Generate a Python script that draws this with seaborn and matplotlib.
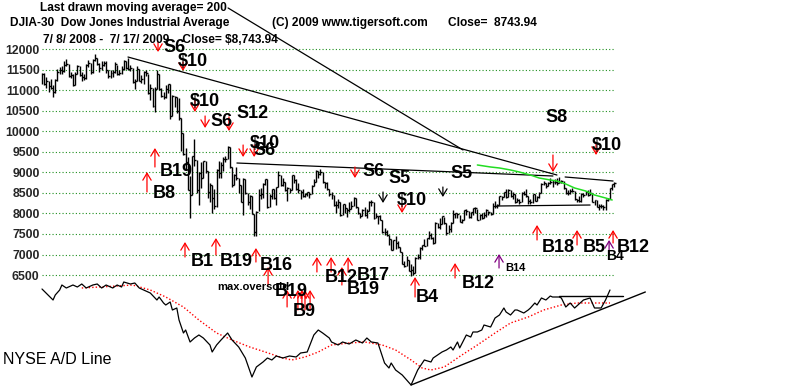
import matplotlib
matplotlib.use("Agg")
import matplotlib.pyplot as plt
import seaborn as sns
import pandas as pd

# ---------------- data ----------------
# DJIA daily bars, 7/8/2008 - 7/17/2009 (x = trading-day number)
close = [11384, 11147, 11229, 11100, 11055, 10962, 11239, 11446, 11496, 11467, 11602, 11632, 11349, 11370, 11131, 11397, 11583, 11378,
         11326, 11284, 11616, 11656, 11431, 11734, 11782, 11642, 11532, 11615, 11659, 11479, 11348, 11417, 11430, 11628, 11387, 11413, 11502, 11715, 11543,
         11516, 11532, 11188, 11220, 11510, 11231, 11268, 11434, 11421, 10918, 11059, 10609, 11019, 11388, 11015, 10854, 10825, 11022, 11143, 10365, 10851,
         10831, 10482, 10325, 9955, 9447, 9258, 8579, 8451, 9387, 9310, 8577, 8979, 8852, 9265, 9033, 8519, 8691, 8378, 8175, 9065, 8991, 9180, 9325,
         9319, 9625, 9139, 8695, 8943, 8870, 8693, 8283, 8835, 8497, 8273, 8424, 7997, 7552, 8046, 8443, 8479, 8726, 8829,
         8149, 8419, 8591, 8376, 8635, 8934, 8691, 8761, 8565, 8629, 8564, 8924, 8824, 8604, 8579, 8519, 8419, 8468, 8515, 8483, 8668, 8776,
         9034, 8953, 9015, 8769, 8742, 8599, 8474, 8448, 8200, 8212, 8281, 7949, 8228, 8123, 8077, 8116, 8175, 8375, 8149, 8001,
         7936, 8078, 7957, 8063, 8280, 8270, 7888, 7939, 7933, 7850, 7553, 7556, 7466, 7365, 7115, 7351, 7270, 7183, 7063,
         6763, 6726, 6876, 6594, 6627, 6547, 6926, 6930, 7170, 7224, 7216, 7395, 7486, 7400, 7278, 7776, 7660, 7749, 7925, 7776, 7522, 7609,
         7762, 7979, 8018, 7975, 7789, 7837, 8083, 8058, 7920, 8029, 8125, 8131, 7841, 7969, 7886, 7957, 8076, 8025, 7975, 8186, 8168,
         8212, 8426, 8410, 8512, 8409, 8575, 8419, 8469, 8284, 8331, 8268, 8504, 8474, 8422, 8293, 8277, 8473, 8300, 8404, 8500,
         8721, 8740, 8675, 8750, 8764, 8764, 8763, 8739, 8770, 8799, 8612, 8504, 8497, 8555, 8539, 8339, 8323, 8299, 8472, 8438, 8529, 8447,
         8504, 8280, 8324, 8163, 8178, 8183, 8146, 8332, 8359, 8616, 8712, 8744]
high = [11420, 11420, 11330, 11230, 11260, 11120, 11280, 11520, 11560, 11580, 11700, 11760, 11630, 11450, 11380, 11430, 11620, 11590,
        11450, 11400, 11640, 11740, 11650, 11760, 11870, 11790, 11650, 11700, 11720, 11700, 11480, 11480, 11480, 11680, 11620, 11480, 11580, 11740, 11700,
        11790, 11620, 11530, 11260, 11580, 11520, 11360, 11470, 11490, 11400, 11140, 11060, 11070, 11480, 11390, 11040, 10960, 11120, 11150, 11140, 10870,
        10860, 10830, 10800, 10320, 9960, 9600, 9370, 8900, 9390, 9800, 9310, 9000, 9250, 9270, 9270, 9030, 8750, 8690, 8600, 9080, 9280, 9240, 9380,
        9400, 9650, 9620, 9140, 8960, 9120, 8870, 8690, 8850, 8830, 8500, 8440, 8430, 7990, 8050, 8600, 8620, 8730, 8830,
        8830, 8460, 8600, 8590, 8640, 9030, 8930, 8860, 8760, 8650, 8630, 8930, 8930, 8840, 8740, 8580, 8600, 8490, 8530, 8520, 8680, 8830,
        9050, 9040, 9090, 9010, 8770, 8760, 8600, 8530, 8440, 8300, 8340, 8280, 8230, 8220, 8140, 8270, 8290, 8390, 8370, 8150,
        8000, 8100, 8160, 8100, 8310, 8320, 8280, 8000, 7940, 7960, 7840, 7640, 7600, 7470, 7370, 7360, 7460, 7330, 7180,
        7060, 6850, 6960, 6870, 6770, 6710, 6930, 7020, 7180, 7240, 7380, 7400, 7560, 7520, 7420, 7780, 7770, 7880, 7930, 7920, 7770, 7710,
        7780, 8080, 8020, 8010, 7970, 7870, 8090, 8110, 8060, 8040, 8130, 8160, 8110, 7990, 8010, 8030, 8100, 8070, 8030, 8250, 8290,
        8240, 8430, 8420, 8520, 8590, 8590, 8570, 8510, 8470, 8380, 8340, 8510, 8540, 8590, 8420, 8340, 8480, 8480, 8430, 8510,
        8730, 8780, 8740, 8760, 8870, 8810, 8830, 8870, 8880, 8810, 8800, 8620, 8560, 8590, 8620, 8540, 8360, 8420, 8490, 8490, 8550, 8560,
        8590, 8490, 8330, 8320, 8220, 8230, 8200, 8340, 8380, 8620, 8720, 8760]
low = [11150, 11130, 11050, 10950, 11030, 10830, 10930, 11230, 11380, 11390, 11440, 11580, 11320, 11290, 11110, 11130, 11390, 11350,
       11220, 11240, 11280, 11550, 11380, 11420, 11720, 11600, 11440, 11480, 11590, 11420, 11300, 11300, 11330, 11420, 11360, 11360, 11390, 11490, 11520,
       11500, 11460, 11170, 11030, 11220, 11220, 11180, 11140, 11340, 10910, 10750, 10600, 10460, 11020, 11000, 10840, 10790, 10800, 10920, 10300, 10370,
       10580, 10440, 10280, 9520, 9430, 9050, 8570, 7880, 8450, 9150, 8500, 8200, 8630, 8850, 8980, 8380, 8270, 8000, 8100, 8150, 8850, 8870, 9030,
       9250, 9320, 9100, 8650, 8690, 8810, 8500, 8280, 7970, 8480, 8200, 8100, 7990, 7450, 7450, 8050, 8340, 8380, 8700,
       8140, 8150, 8360, 8350, 8200, 8640, 8660, 8660, 8540, 8300, 8490, 8570, 8750, 8570, 8500, 8350, 8400, 8410, 8430, 8370, 8480, 8660,
       8760, 8860, 8940, 8730, 8620, 8580, 8420, 8340, 8170, 8000, 8120, 7940, 7950, 8000, 7910, 8030, 8110, 8180, 8140, 7990,
       7880, 7930, 7940, 7880, 8050, 8180, 7860, 7880, 7740, 7840, 7530, 7480, 7450, 7230, 7100, 7110, 7130, 7150, 7050,
       6760, 6700, 6720, 6590, 6470, 6510, 6550, 6890, 6900, 7110, 7200, 7200, 7370, 7380, 7250, 7280, 7650, 7620, 7730, 7740, 7480, 7520,
       7550, 7770, 7890, 7880, 7780, 7760, 7850, 7960, 7900, 7880, 7960, 8020, 7830, 7840, 7870, 7890, 7920, 7960, 7950, 7980, 8140,
       8140, 8210, 8330, 8400, 8380, 8400, 8410, 8350, 8260, 8280, 8240, 8270, 8440, 8400, 8220, 8240, 8260, 8290, 8290, 8370,
       8500, 8680, 8620, 8660, 8710, 8650, 8720, 8690, 8740, 8730, 8600, 8480, 8450, 8460, 8520, 8320, 8280, 8280, 8280, 8390, 8440, 8420,
       8440, 8270, 8210, 8150, 8090, 8120, 8090, 8080, 8290, 8360, 8580, 8640]

price_ticks = [12000, 11500, 11000, 10500, 10000, 9500, 9000, 8500, 8000, 7500, 7000, 6500]

# 200-day moving average (green), trading-day number / value
ma200_day = [197, 203, 207, 212, 216, 221, 225, 230, 233, 237, 241, 246, 250, 255, 258]
ma200_val = [9178, 9129, 9105, 9056, 9007, 8934, 8861, 8813, 8788, 8715, 8618, 8545, 8448, 8375, 8326]

# trend lines on the price chart (start day, start price, end day, end price)
trend_x0 = [38.9, 84.2, 88.2, 205.9, 236.7]
trend_y0 = [11805, 12998, 9226, 8180, 8886]
trend_x1 = [233.0, 190.5, 231.2, 248.0, 258.4]
trend_y1 = [8934, 9543, 8910, 8204, 8788]

# NYSE A/D line (relative units)
ad_day = [0, 5, 6, 8, 9, 11, 14, 16, 18, 20, 23, 25, 27, 29, 32, 34, 36, 37, 40, 42, 44, 47, 49, 52, 53, 55, 56, 58, 59, 61,
          62, 64, 65, 67, 69, 71, 73, 76, 77, 79, 81, 84, 86, 89, 92, 95, 97, 100, 102, 104, 106, 109, 112, 115, 117, 120,
          123, 125, 127, 130, 131, 134, 136, 139, 142, 145, 147, 149, 152, 155, 157, 158, 160, 163, 165, 167, 169, 170, 173,
          176, 177, 179, 181, 183, 185, 186, 188, 189, 192, 194, 195, 197, 199, 200, 203, 205, 207, 209, 210, 212, 214, 215,
          218, 220, 221, 223, 224, 226, 228, 230, 231, 234, 235, 237, 239, 241, 245, 248, 250, 253, 255, 257]
ad_val = [101, 90, 95, 100, 105, 102, 105, 103, 106, 102, 105, 106, 102, 105, 102, 105, 103, 108, 106, 107, 102, 99, 97, 90, 93, 87, 85, 88, 80, 82,
          70, 57, 60, 48, 52, 55, 52, 45, 38, 45, 50, 57, 50, 43, 32, 13, 23, 28, 32, 30, 34, 32, 34, 33, 37, 38,
          55, 60, 57, 52, 48, 45, 48, 46, 50, 47, 52, 48, 47, 27, 22, 27, 20, 15, 10, 5, 15, 20, 30,
          28, 32, 35, 38, 40, 43, 40, 48, 42, 55, 53, 58, 58, 60, 65, 63, 72, 75, 82, 78, 75, 80, 80,
          77, 80, 82, 87, 85, 92, 90, 94, 93, 93, 92, 83, 87, 82, 90, 92, 82, 82, 90, 100]
ad_ma_day = [18, 26, 34, 41, 49, 56, 64, 71, 79, 86, 94, 101, 109, 113, 119, 125, 131, 139, 146, 154, 160, 167, 172,
             176, 182, 190, 197, 205, 212, 220, 227, 235, 242, 250, 257]
ad_ma_val = [102, 103, 104, 105, 100, 93, 83, 70, 57, 50, 43, 38, 32, 30, 33, 38, 45, 47, 48, 45, 40, 30, 22,
             20, 23, 35, 45, 57, 67, 73, 80, 85, 87, 87, 87]
ad_trend_x = [167, 273]
ad_trend_y = [5, 98]
ad_flat_x = [234, 263]
ad_flat_y = [94, 94]

# signal arrows: sell (down) and buy (up)
sell_day = [52.5, 63.8, 69.2, 73.8, 84.6, 91.0, 96.0, 141.6, 154.3, 162.9, 181.4, 231.2, 250.7]
sell_top = [12170, 11684, 10759, 10370, 10345, 9664, 9664, 9129, 8521, 8204, 8642, 9421, 9713]
sell_tip = [11927, 11465, 10467, 10078, 10005, 9372, 9372, 8861, 8253, 8010, 8399, 9007, 9421]
sell_col = ["red", "red", "red", "red", "red", "red", "red", "red", "black", "red", "black", "red", "red"]
buy_day = [51.1, 47.5, 64.7, 78.7, 96.8, 102.3, 110.9, 115.8, 117.6, 119.0, 121.3, 124.4, 130.8, 135.7, 138.5,
           168.8, 186.9, 206.8, 224.0, 242.1, 256.6, 258.4]
buy_base = [9129, 8521, 6939, 6988, 6817, 6258, 5723, 5650, 5650, 5650, 5650, 6574, 6574, 6258, 6574,
            5966, 6428, 6671, 7353, 7231, 6988, 7280]
buy_tip = [9591, 9007, 7304, 7401, 7158, 6696, 6136, 6136, 6136, 6136, 6136, 6939, 6939, 6696, 6939,
           6452, 6793, 7012, 7718, 7596, 7353, 7596]
buy_col = ["red"] * 17 + ["purple", "red", "red", "purple", "red"]

# ---------------- drawing ----------------
sns.set_style("white")
plt.rcParams["font.family"] = ["Liberation Sans", "DejaVu Sans"]

W, H = 800, 390
fig = plt.figure(figsize=(8, 3.9), dpi=100)
fig.patch.set_facecolor("white")

SP = 2.21  # pixels per trading day
left_px = 41
ax = fig.add_axes([left_px / W, 0, 1 - left_px / W, 1])
ax.set_xlim((left_px - 42) / SP, (W - 42) / SP)
ppu = 41.1 / 1000.0  # pixels per point
ax.set_ylim(12000 - (H - 49) / ppu, 12000 + 49 / ppu)
for s in ax.spines.values():
    s.set_visible(False)
ax.set_facecolor("none")
ax.set_xticks([])
ax.set_yticks(price_ticks)
ax.set_yticklabels([str(t) for t in price_ticks], fontweight="bold", fontsize=8.8)
ax.tick_params(axis="y", length=0, pad=1)

n = len(close)
df = pd.DataFrame({"day": range(n), "close": close, "high": high, "low": low})

# grid
ax.hlines(price_ticks, 0, n - 0.5, colors="#1f8f1f", linestyles=(0, (1, 2)), lw=0.8, zorder=1)

# bars
ax.vlines(df["day"], df["low"], df["high"], colors="black", lw=1, zorder=3)
ax.hlines(df["close"], df["day"], df["day"] + 0.9, colors="black", lw=1, zorder=3)

# trend lines
for x0, y0, x1, y1 in zip(trend_x0, trend_y0, trend_x1, trend_y1):
    ax.plot([x0, x1], [y0, y1], color="black", lw=0.9, zorder=4)

# green moving average
sns.lineplot(x=ma200_day, y=ma200_val, ax=ax, color="#22dd22", lw=1.1, zorder=4)

# signal arrows
for d, t, b, c in zip(sell_day, sell_top, sell_tip, sell_col):
    ax.annotate("", xy=(d, b), xytext=(d, t),
                arrowprops=dict(arrowstyle="->,head_length=0.5,head_width=0.3", color=c, lw=0.9,
                                shrinkA=0, shrinkB=0), zorder=6)
for d, b, t, c in zip(buy_day, buy_base, buy_tip, buy_col):
    ax.annotate("", xy=(d, t), xytext=(d, b),
                arrowprops=dict(arrowstyle="->,head_length=0.5,head_width=0.3", color=c, lw=0.9,
                                shrinkA=0, shrinkB=0), zorder=6)

# A/D panel
ax2 = fig.add_axes([left_px / W, 0, 1 - left_px / W, 1])
ax2.set_xlim(ax.get_xlim())
ax2.set_ylim(0, H)
ax2.set_axis_off()
ax2.patch.set_alpha(0)
sns.lineplot(x=ad_ma_day, y=ad_ma_val, ax=ax2, color="red", lw=1, linestyle=(0, (1, 1.5)))
sns.lineplot(x=ad_day, y=ad_val, ax=ax2, color="black", lw=0.9)
sns.lineplot(x=ad_trend_x, y=ad_trend_y, ax=ax2, color="black", lw=1)
sns.lineplot(x=ad_flat_x, y=ad_flat_y, ax=ax2, color="black", lw=1)


def txt(s, x, y, size=13, weight="bold", color="black"):
    fig.text(x / W, 1 - y / H, s, fontsize=size, fontweight=weight, color=color,
             ha="left", va="center", zorder=10)


# headers
txt("Last drawn moving average= 200", 40, 8, size=8.6)
txt("DJIA-30  Dow Jones Industrial Average", 10, 23, size=8.6)
txt("(C) 2009 www.tigersoft.com", 272, 23, size=8.6)
txt("Close=  8743.94", 448, 23, size=8.6)
txt("7/ 8/ 2008 -  7/ 17/ 2009    Close= $8,743.94", 43, 40, size=8.6)

# signal labels
for s, x, y in [("S6", 163, 47), ("$10", 178, 62), ("$10", 190, 101), ("S6", 210, 121), ("S12", 236, 114),
                ("$10", 250, 143), ("S6", 253, 151), ("S6", 362, 171), ("S5", 388, 179), ("$10", 397, 201),
                ("S5", 450, 173), ("S8", 545, 117), ("$10", 592, 145),
                ("B19", 160, 171), ("B8", 153, 194), ("B1", 191, 262), ("B19", 220, 262), ("B16", 260, 266),
                ("B19", 275, 291), ("B9", 293, 312), ("B12", 325, 277), ("B17", 357, 276), ("B19", 347, 290),
                ("B4", 416, 297), ("B12", 462, 284), ("B18", 542, 248), ("B5", 583, 248), ("B12", 617, 248)]:
    txt(s, x, y)
txt("B4", 606, 256, size=10)
txt("B14", 505, 268, size=8)
txt("max.oversold", 217, 287, size=8)
txt("NYSE A/D Line", 3, 359, size=11.5, weight="normal")

fig.savefig("out.png", dpi=100, facecolor="white")
